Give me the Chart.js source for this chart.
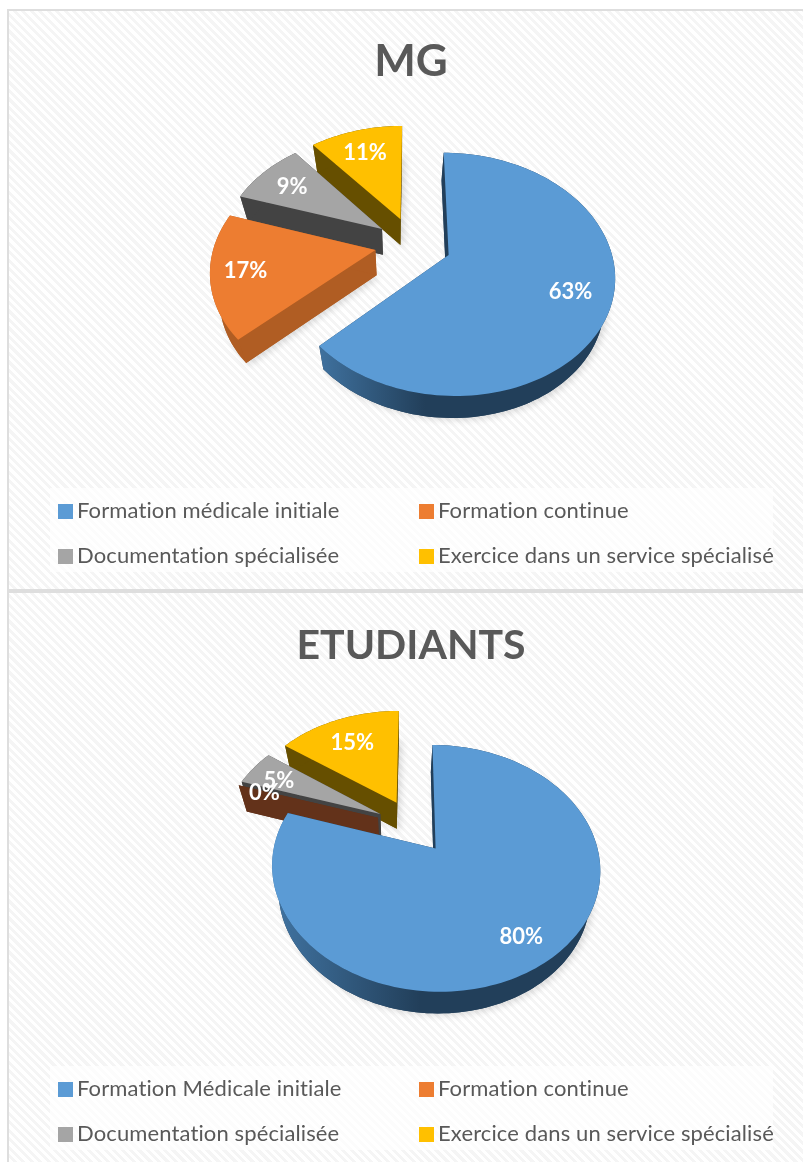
<!DOCTYPE html>
<html><head><meta charset="utf-8">
<script src="https://cdn.jsdelivr.net/npm/chart.js@4/dist/chart.umd.min.js"></script>
<style>
html,body{margin:0;padding:0;background:#fff;width:803px;height:1162px;overflow:hidden}
.panel{position:absolute;left:7px;width:808px;box-sizing:border-box;border:2px solid #dedede;
 background:repeating-linear-gradient(45deg,#ffffff 0,#ffffff 3px,#f5f5f5 3px,#f5f5f5 6px)}
canvas{position:absolute;left:0;top:0}
</style></head><body>
<div class="panel" style="top:9px;height:582px"><canvas id="c1"></canvas></div>
<div class="panel" style="top:591px;height:590px"><canvas id="c2"></canvas></div>
<script>
const mgTitle = 'MG';
const mgLabels = ['Formation médicale initiale','Formation continue','Documentation spécialisée','Exercice dans un service spécialisé'];
const mgValues = [63,17,9,11];
const etTitle = 'ETUDIANTS';
const etLabels = ['Formation Médicale initiale','Formation continue','Documentation spécialisée','Exercice dans un service spécialisé'];
const etValues = [80,0,5,15];

const TOP = ['#5b9bd5','#ed7d31','#a5a5a5','#ffc000'];
const FONT = 'Lato, Carlito, sans-serif';
const RADIUS = 160, OFFSET = 38;

const pie3d = {
  id:'pie3d',
  beforeDatasetsDraw(chart, args, o){
    const ctx = chart.ctx, meta = chart.getDatasetMeta(0);
    const R = RADIUS, K = .157;
    const pr = (u,v)=>{const d=1-K*v; return [o.cx+o.b*u/d, o.cy+o.a*v/d];};
    const low = p=>[p[0]+.05*(391-p[0]), p[1]+1+.0223*(o.cy+1094-p[1])];
    const slices = meta.data.map((el,i)=>{
      const s = el.startAngle, e = el.endAngle, m=(s+e)/2, off = el.options.offset/R;
      const ax = off*Math.cos(m), ay = off*Math.sin(m);
      const n = Math.max(2,Math.ceil((e-s)/.03));
      const rim=[];
      for(let j=0;j<=n;j++){const a=s+(e-s)*j/n; rim.push(pr(ax+Math.cos(a),ay+Math.sin(a)));}
      return {i,m,ax,ay,apex:pr(ax,ay),rim};
    }).sort((p,q)=>p.apex[1]-q.apex[1]);
    const poly=(pts,fill)=>{ctx.beginPath();pts.forEach((p,i)=>i?ctx.lineTo(p[0],p[1]):ctx.moveTo(p[0],p[1]));ctx.closePath();ctx.fillStyle=fill;ctx.fill();};
    ctx.save();
    for(const s of slices){
      const top=[s.apex,...s.rim], bot=top.map(low);
      const wall=o.walls[s.i];
      ctx.save();
      ctx.shadowColor='rgba(0,0,0,.14)';ctx.shadowBlur=7;ctx.shadowOffsetX=3;ctx.shadowOffsetY=2;
      poly(bot,wall);
      ctx.restore();
      poly([s.apex,s.rim[0],low(s.rim[0]),low(s.apex)],wall);
      const l=s.rim.length-1;
      poly([s.apex,s.rim[l],low(s.rim[l]),low(s.apex)],wall);
      let rimFill=wall;
      if(s.i===0){
        const g=ctx.createLinearGradient(o.gx0,0,o.gx1,0);
        g.addColorStop(0,'#3f719e');g.addColorStop(1,wall);rimFill=g;
      }
      poly([...s.rim,...s.rim.map(low).reverse()],rimFill);
      poly(top,TOP[s.i]);
    }
    ctx.restore();
    return false;
  },
  afterDraw(chart, args, o){
    const ctx=chart.ctx, meta=chart.getDatasetMeta(0), d=chart.data.datasets[0].data;
    const total=d.reduce((a,b)=>a+b,0);
    const K=.157;
    ctx.save();
    ctx.fillStyle='rgba(255,255,255,.72)';
    ctx.fillRect(41,o.ly-16,723,84);
    ctx.font='22px '+FONT;ctx.textBaseline='middle';ctx.letterSpacing='0.12px';
    chart.data.labels.forEach((t,i)=>{
      const x=i%2?410:49, y=o.ly+(i>1?45:0);
      ctx.fillStyle=TOP[i];ctx.fillRect(x,y,15,15);
      ctx.fillStyle='#595959';ctx.fillText(t,x+19,y+7);
    });
    ctx.font='bold 22px '+FONT;ctx.fillStyle='#fff';ctx.textAlign='center';ctx.letterSpacing='0px';
    meta.data.forEach((el,i)=>{
      const m=(el.startAngle+el.endAngle)/2, r=el.options.offset/RADIUS+.75;
      const u=r*Math.cos(m), v=r*Math.sin(m), q=1-K*v, n=o.nudge[i];
      ctx.fillText(Math.round(d[i]/total*100)+'%',o.cx+o.b*u/q+n[0],o.cy+o.a*v/q+1+n[1]);
    });
    ctx.restore();
  }
};

function build(id,h,title,labels,values,o){
  const cv=document.getElementById(id);
  cv.width=804;cv.height=h;cv.style.width='804px';cv.style.height=h+'px';
  return new Chart(cv,{type:'pie',data:{labels,datasets:[{data:values,backgroundColor:TOP,offset:OFFSET,borderWidth:0}]},
    plugins:[pie3d],
    options:{responsive:false,animation:false,radius:RADIUS,
      layout:{padding:0},
      plugins:{legend:{display:false},tooltip:{enabled:false},
        title:{display:true,text:title,color:'#595959',font:{family:FONT,size:o.ts,weight:'bold'},padding:{top:o.tp,bottom:0}},
        pie3d:o}}});
}
build('c1',578,mgTitle,mgLabels,mgValues,{cx:413-9,cy:244-11,b:161,a:115,walls:['#223f5a','#b05d23','#434343','#664f00'],gx0:320-9,gx1:425-9,ly:493,tp:24,ts:44,nudge:[[2,-1],[-7,0],[0,1],[-1,1]]});
build('c2',569,etTitle,etLabels,etValues,{cx:413-9,cy:826-593,b:157,a:113,walls:['#223f5a','#63321a','#434343','#664f00'],gx0:280-9,gx1:420-9,ly:489,tp:28,ts:41,nudge:[[4,7],[-8,-1],[-5,1],[1,3]]});
</script></body></html>
